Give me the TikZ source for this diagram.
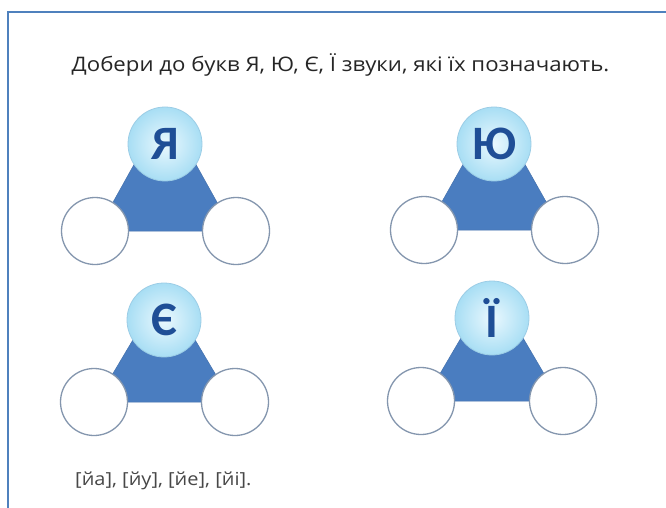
\documentclass[tikz,border=0pt]{standalone}
\usepackage{fontspec}
\setmainfont{Open Sans}
\newfontfamily\letterfont{Carlito}
\usetikzlibrary{calc}
\definecolor{framecol}{HTML}{4F81BD}
\definecolor{platecol}{HTML}{4A7DC0}
\definecolor{ballin}{HTML}{EAF8FE}
\definecolor{ballout}{HTML}{A8DEF4}
\definecolor{ballline}{HTML}{9CCDE6}
\definecolor{lettercol}{HTML}{1F4E96}
\definecolor{slotline}{HTML}{8496AE}
\definecolor{textcol}{HTML}{262626}
\tikzset{
  topball/.style={circle, minimum size=74pt, inner sep=0pt, draw=ballline, line width=0.8pt,
    inner color=ballin, outer color=ballout, text=lettercol,
    font=\letterfont\fontsize{48}{48}\selectfont\bfseries},
  slot/.style={circle, minimum size=67pt, inner sep=0pt, draw=slotline, line width=1.3pt, fill=white},
  plate/.style={fill=platecol, draw=platecol!90!black, line width=0.5pt},
  framestroke/.style={draw=framecol, line width=2pt}
}
\newcommand{\lettergroup}[7]{%
  % #1 name, #2 tx, #3 ty, #4 by, #5 lx, #6 rx, #7 letter
  \coordinate (#1c) at (#2,#3);
  \fill[plate] ($(#1c)+(-24,8)$) -- ($(#1c)+(24,8)$) -- (#2+68,#4) -- (#2-68,#4) -- cycle;
  \node[slot] (#1l) at (#5,#4) {};
  \node[slot] (#1r) at (#6,#4) {};
  \node[topball] (#1t) at (#2,#3) {#7};
}
\begin{document}
\begin{tikzpicture}[x=1pt,y=-1pt]
\useasboundingbox (0,0) rectangle (666,508);
\fill[white] (0,0) rectangle (666,508);
\coordinate (fa) at (7.5,508);
\coordinate (fb) at (7.5,12);
\coordinate (fc) at (666,12);
\draw[framestroke] (fa) -- (fb) -- (fc);
\node[text=textcol, font=\fontsize{20}{24}\selectfont, anchor=base, inner sep=0pt] (title) at (340.5,72)
  {\scalebox{1.11}[1]{Добери до букв Я, Ю, Є, Ї звуки, які їх позначають.}};
\lettergroup{a}{165}{144}{231}{95}{236}{Я}
\lettergroup{b}{494}{144}{230}{424}{565}{Ю}
\lettergroup{c}{164}{320}{402}{94}{235}{Є}
\lettergroup{d}{492}{318}{401}{421}{563}{Ї}
\node[text=textcol!85!white, font=\fontsize{18}{20}\selectfont, anchor=base west, inner sep=0pt] (answers) at (75,485)
  {\scalebox{1.11}[1]{[йа], [йу], [йе], [йі].}};
\end{tikzpicture}
\end{document}
